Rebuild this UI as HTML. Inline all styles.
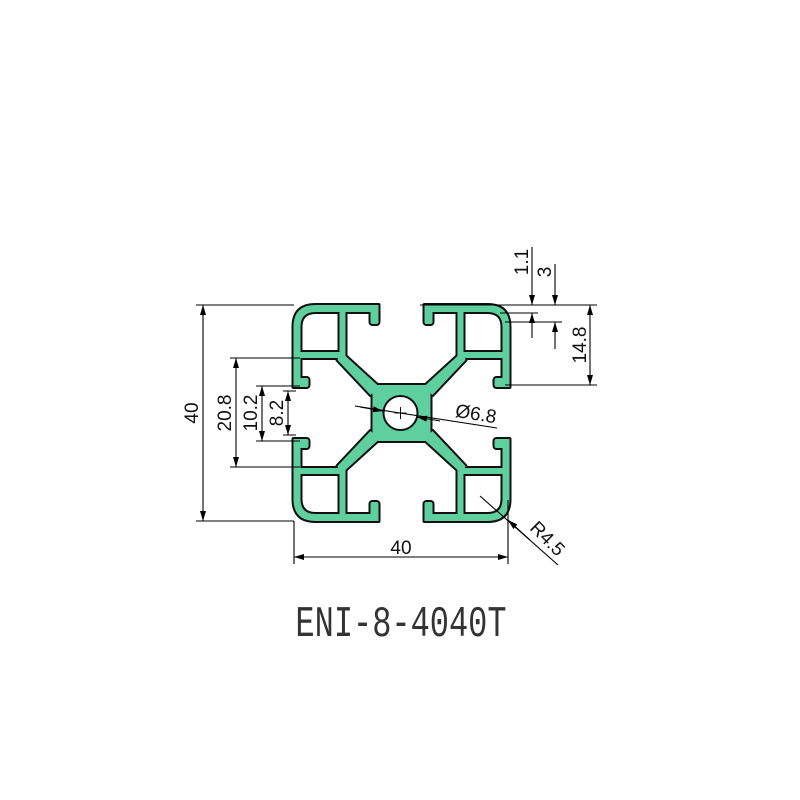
<!DOCTYPE html>
<html><head><meta charset="utf-8"><style>
html,body{margin:0;padding:0;background:#fff;}
svg{display:block;}
.d{font-family:"Liberation Sans",sans-serif;font-size:19px;fill:#111;}
</style></head><body>
<svg width="800" height="800" viewBox="0 0 800 800" xmlns="http://www.w3.org/2000/svg">
<defs>
<marker id="a" viewBox="0 0 10 6" refX="10" refY="3" markerWidth="11" markerHeight="6" orient="auto-start-reverse" markerUnits="userSpaceOnUse"><path d="M0,0 L10,3 L0,6 Z" fill="#000"/></marker>
<g id="q">
<path d="M-108,-26 V-86 Q-108,-108 -86,-108 H-23 V-101 H-86 Q-101,-101 -101,-86 V-26 Z"/>
<rect x="-31" y="-108" width="8" height="19" rx="2"/>
<rect x="-108" y="-35" width="15" height="9" rx="2"/>
<rect x="-62" y="-104" width="6" height="50"/>
<rect x="-104" y="-61" width="48" height="6"/>
<polygon points="-62,-61 -56,-61 -56,-57 -22,-26 -31,-18 -64,-53"/>
<rect x="-29" y="-28" width="29" height="28"/>
</g>
</defs>
<g transform="translate(401.5,413)">
<g fill="#5fcf9f" stroke="#111" stroke-width="4" stroke-linejoin="round">
<use href="#q"/><use href="#q" transform="scale(-1,1)"/><use href="#q" transform="scale(1,-1)"/><use href="#q" transform="scale(-1,-1)"/>
</g>
<g fill="#5fcf9f" stroke="none">
<use href="#q"/><use href="#q" transform="scale(-1,1)"/><use href="#q" transform="scale(1,-1)"/><use href="#q" transform="scale(-1,-1)"/>
</g>
<circle cx="-1" cy="0" r="17" fill="#fff" stroke="#111" stroke-width="2"/>
<path d="M-7,0 H5 M-1,-6 V6" stroke="#111" stroke-width="1"/>
</g>
<g stroke="#000" stroke-width="1.1" fill="none">
<path d="M196,305 H294 M196,521 H294"/>
<line x1="203" y1="305" x2="203" y2="521" marker-start="url(#a)" marker-end="url(#a)"/>
<path d="M230,358 H300 M230,467 H300"/>
<line x1="236" y1="358" x2="236" y2="467" marker-start="url(#a)" marker-end="url(#a)"/>
<path d="M256,386 H300 M256,441 H300"/>
<line x1="262" y1="386" x2="262" y2="441" marker-start="url(#a)" marker-end="url(#a)"/>
<path d="M283,391 H296 M283,435 H296"/>
<line x1="288" y1="391" x2="288" y2="435" marker-start="url(#a)" marker-end="url(#a)"/>
<path d="M420,305 H597 M500,313 H538 M505,322 H562 M505,385 H597"/>
<line x1="532" y1="247" x2="532" y2="305" marker-end="url(#a)"/>
<line x1="532" y1="338" x2="532" y2="313" marker-end="url(#a)"/>
<line x1="555" y1="264" x2="555" y2="305" marker-end="url(#a)"/>
<line x1="555" y1="349" x2="555" y2="322" marker-end="url(#a)"/>
<line x1="590" y1="305" x2="590" y2="385" marker-start="url(#a)" marker-end="url(#a)"/>
<path d="M294,521 V564 M508,500 V564"/>
<line x1="294" y1="557" x2="508" y2="557" marker-start="url(#a)" marker-end="url(#a)"/>
<line x1="480" y1="496" x2="558" y2="565"/>
<line x1="530" y1="540" x2="508" y2="520" marker-end="url(#a)"/>
<line x1="355" y1="406" x2="497" y2="428"/>
<line x1="360" y1="407" x2="383" y2="411" marker-end="url(#a)"/>
<line x1="440" y1="421" x2="417" y2="417" marker-end="url(#a)"/>
</g>
<g class="d">
<text transform="translate(198,413) rotate(-90)" text-anchor="middle">40</text>
<text transform="translate(231,413) rotate(-90)" text-anchor="middle">20.8</text>
<text transform="translate(257,413) rotate(-90)" text-anchor="middle">10.2</text>
<text transform="translate(283,413) rotate(-90)" text-anchor="middle">8.2</text>
<text transform="translate(528,262) rotate(-90)" text-anchor="middle">1.1</text>
<text transform="translate(551,272) rotate(-90)" text-anchor="middle">3</text>
<text transform="translate(586,345) rotate(-90)" text-anchor="middle">14.8</text>
<text x="401" y="554" text-anchor="middle">40</text>
<text transform="translate(536,536) rotate(45)" text-anchor="middle" x="10">R4.5</text>
<text transform="translate(475,420) rotate(9)" text-anchor="middle">Ø6.8</text>
</g>
<text transform="translate(401,636) scale(1,1.35)" text-anchor="middle" font-family="Liberation Mono, monospace" font-size="32" fill="#333">ENI-8-4040T</text>
</svg>
</body></html>
